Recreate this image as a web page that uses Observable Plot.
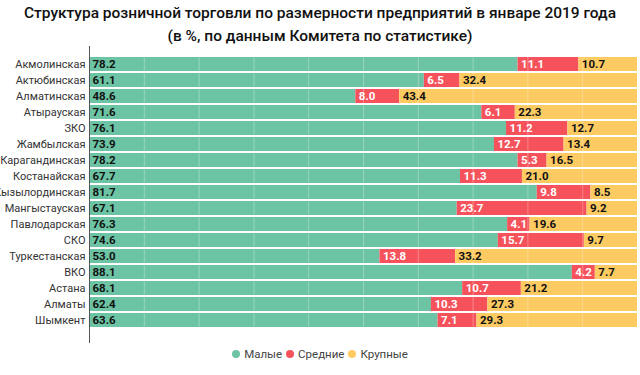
<!DOCTYPE html>
<html>
<head>
<meta charset="utf-8">
<script src="https://cdn.jsdelivr.net/npm/d3@7"></script>
<script src="https://cdn.jsdelivr.net/npm/@observablehq/plot@0.6"></script>
<style>
  body { margin: 0; background: #fff; width: 640px; overflow: hidden; }
  #title { font-family: Roboto, sans-serif; font-weight: 500; font-size: 15.5px; line-height: 23px; padding-top: 2px; height: 44px; text-align: center; color: #111; white-space: nowrap; }
  #legend { font-family: Roboto, sans-serif; font-size: 11.5px; color: #444; text-align: center; padding-top: 2px; line-height: 16px; }
  #legend span.item { margin: 0 2px; }
  #legend span.dot { display: inline-block; width: 8px; height: 8px; border-radius: 50%; margin-right: 4px; vertical-align: 0px; }
</style>
</head>
<body>
<div id="title">Структура розничной торговли по размерности предприятий в январе 2019 года<br>(в %, по данным Комитета по статистике)</div>
<div id="chart"></div>
<div id="legend"></div>
<script>
const regions = ["Акмолинская","Актюбинская","Алматинская","Атырауская","ЗКО","Жамбылская","Карагандинская","Костанайская","Кызылординская","Мангыстауская","Павлодарская","СКО","Туркестанская","ВКО","Астана","Алматы","Шымкент"];
const small  = [78.2,61.1,48.6,71.6,76.1,73.9,78.2,67.7,81.7,67.1,76.3,74.6,53.0,88.1,68.1,62.4,63.6];
const medium = [11.1,6.5,8.0,6.1,11.2,12.7,5.3,11.3,9.8,23.7,4.1,15.7,13.8,4.2,10.7,10.3,7.1];
const large  = [10.7,32.4,43.4,22.3,12.7,13.4,16.5,21.0,8.5,9.2,19.6,9.7,33.2,7.7,21.2,27.3,29.3];
const types = ["Малые","Средние","Крупные"];
const colors = ["#6cc4a4","#f5525b","#fecb63"];

const data = [];
regions.forEach((r, i) => {
  [small[i], medium[i], large[i]].forEach((v, j) => data.push({region: r, type: types[j], value: v}));
});

const chart = Plot.plot({
  width: 640,
  height: 298,
  marginLeft: 89,
  marginRight: 3,
  marginTop: 2,
  marginBottom: 8,
  style: {fontFamily: "Roboto, sans-serif", background: "#fff"},
  x: {domain: [0, 100], axis: null},
  y: {domain: regions, paddingInner: 0.12, paddingOuter: 0.05, label: null},
  color: {domain: types, range: colors},
  marks: [
    Plot.barX(data, Plot.stackX({x: "value", y: "region", fill: "type", z: "type", order: types})),
    Plot.gridX({ticks: d3.range(10, 100, 10), stroke: "#ffffff", strokeOpacity: 0.3}),
    Plot.text(data, Plot.stackX1({
      x: "value", y: "region", z: "type", order: types,
      text: d => d.value.toFixed(1),
      textAnchor: "start", dx: 3,
      fontSize: 11.5, fontWeight: "bold",
      fill: d => d.type === "Средние" ? "#fff" : "#111"
    })),
    Plot.axisY({tickSize: 0, tickPadding: 4, fontSize: 11, fill: "#333", label: null}),
    Plot.ruleX([0], {stroke: "#555", insetTop: -2, insetBottom: -7})
  ]
});
document.getElementById("chart").appendChild(chart);

const legend = document.getElementById("legend");
types.forEach((t, i) => {
  const item = document.createElement("span");
  item.className = "item";
  const dot = document.createElement("span");
  dot.className = "dot";
  dot.style.background = colors[i];
  item.appendChild(dot);
  item.appendChild(document.createTextNode(t));
  legend.appendChild(item);
});
</script>
</body>
</html>
